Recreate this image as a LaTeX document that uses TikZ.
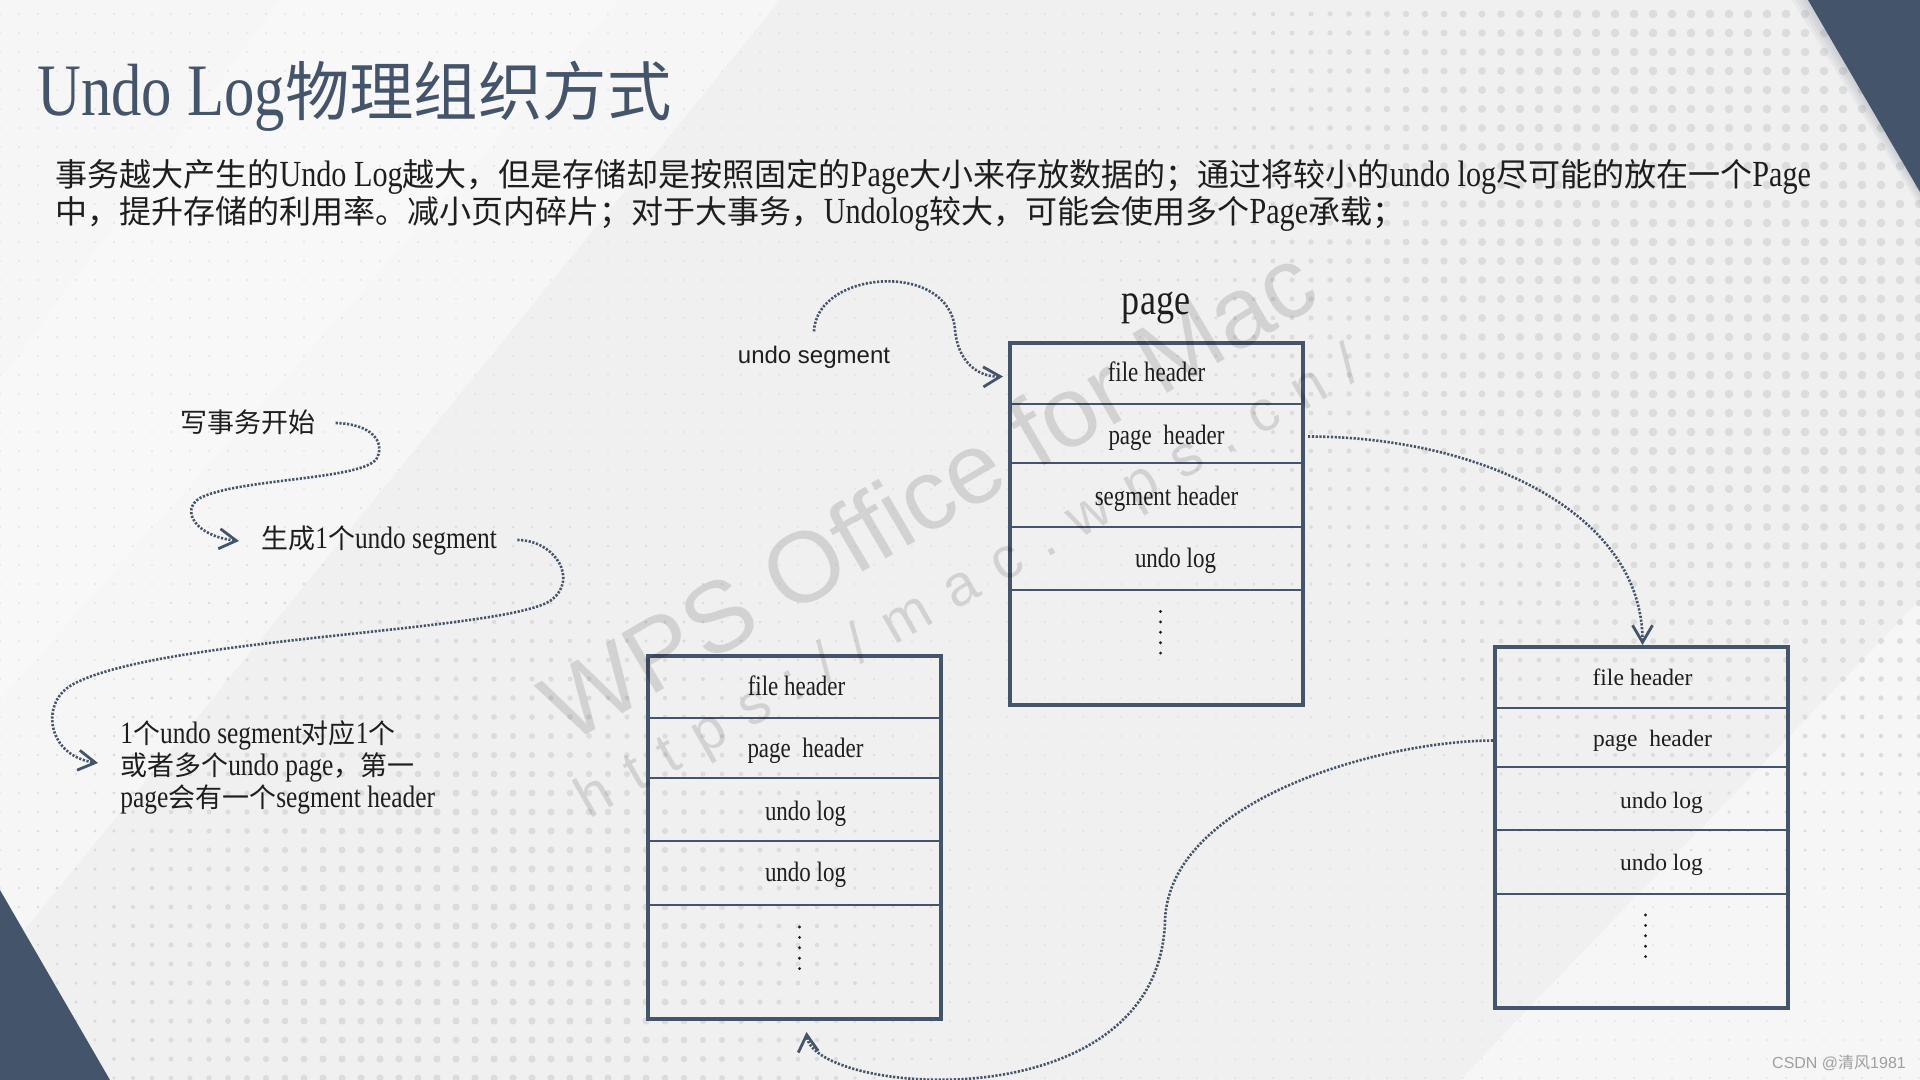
\documentclass[tikz,border=0pt]{standalone}
\usepackage{fontspec}
\usetikzlibrary{arrows.meta,calc}
\setmainfont{Liberation Serif}[FakeStretch=0.82]
\newfontfamily\regserif{Liberation Serif}
\newfontfamily\cjk{Noto Sans CJK SC}[Scale=0.87]
\newfontfamily\cjkfull{Noto Sans CJK SC}
\newfontfamily\arialf{Liberation Sans}
\newfontfamily\wmfont{Liberation Sans}[LetterSpace=38]
\newcommand\ZH[1]{{\cjk #1}}
\definecolor{slate}{HTML}{44546A}
\definecolor{bgc}{HTML}{F0F0F0}
\definecolor{dotc}{HTML}{DCDCDC}
\definecolor{txt}{HTML}{1E1E1E}
\begin{document}
\begin{tikzpicture}[x=0.5pt,y=-0.5pt, text=txt,
  cell/.style={draw=slate, line width=1.2pt, anchor=north west, inner sep=0pt, outer sep=0pt, minimum width=146.5pt},
  frame/.style={draw=slate, line width=1.8pt},
  btxt/.style={font=\fontsize{14}{16}\selectfont, inner sep=0pt, text height=0.7em, text depth=0.2em},
  btxtr/.style={font=\regserif\fontsize{11.75}{14}\selectfont, inner sep=0pt, text height=0.7em, text depth=0.2em},
  lbl/.style={font=\fontsize{15.5}{16}\selectfont, inner sep=0pt, anchor=west},
  conn/.style={draw=slate, line width=1.3pt, dash pattern=on 1.1pt off 0.8pt, -{Straight Barb[length=8.5pt,width=10pt,line width=1.4pt]}},
  vdots/.style={draw=txt, line width=1.6pt, line cap=round, dash pattern=on 0pt off 5.2pt},
  wm/.style={text=black, opacity=0.12, inner sep=0pt}
]
\useasboundingbox (0,0) rectangle (1920,1080);
% background
\fill[bgc] (0,0) rectangle (1920,1080);
\fill[white, opacity=0.45] (0,0) -- (780,0) -- (0,960) -- cycle;
\fill[white, opacity=0.3] (280,0) -- (620,0) -- (0,700) -- (0,380) -- cycle;
\fill[white, opacity=0.4] (1920,600) -- (1920,1080) -- (1460,1080) -- cycle;
% dots
\foreach \i in {0,...,101}{
  \foreach \j in {0,...,56}{
    \pgfmathsetmacro\xx{19*\i}
    \pgfmathsetmacro\yy{14+19*\j}
    \pgfmathsetmacro\ra{4.3*min(1,max(0,1.5*(1-veclen(\xx-1800,\yy-200)/850)))}
    \pgfmathsetmacro\rb{3.6*min(1,max(0,1.4*(1-veclen(\xx-480,\yy-980)/620)))}
    \pgfmathsetmacro\rr{max(\ra,\rb,0.8)}
    \fill[dotc] (\xx,\yy) circle[radius=\rr];
  }
}
% corner shapes
\foreach \s in {4,8,12,16}{
  \fill[slate, opacity=0.05] (1808-\s,0) -- (1920,0) -- (1920,192+\s) -- cycle;
}
\fill[slate] (1808,0) -- (1920,0) -- (1920,192) -- cycle;
\fill[slate] (0,890) -- (110,1080) -- (0,1080) -- cycle;

% title and description
\node[anchor=base west, inner sep=0pt, text=slate, font=\fontsize{37}{40}\selectfont] (title) at (37,116) {Undo Log\ZH{物理组织方式}};
\node[anchor=base west, inner sep=0pt, font=\fontsize{18.4}{18.4}\selectfont] (desc1) at (55,187)
  {\ZH{事务越大产生的}Undo Log\ZH{越大，但是存储却是按照固定的}Page\ZH{大小来存放数据的；通过将较小的}undo log\ZH{尽可能的放在一个}Page};
\node[anchor=base west, inner sep=0pt, font=\fontsize{18.4}{18.4}\selectfont] (desc2) at (55,224)
  {\ZH{中，提升存储的利用率。减小页内碎片；对于大事务，}Undolog\ZH{较大，可能会使用多个}Page\ZH{承载；}};

% left labels
\node[lbl] (w1) at (180,422) {\ZH{写事务开始}};
\node[lbl] (g1) at (261,541) {\ZH{生成}1\ZH{个}undo segment};
\node[lbl, align=left] (t3) at (120,767) {1\ZH{个}undo segment\ZH{对应}1\ZH{个}\\\ZH{或者多个}undo page\ZH{，第一}\\page\ZH{会有一个}segment header};

% undo segment label and page label
\node[font=\arialf\fontsize{12}{14}\selectfont, inner sep=0pt] (useg) at (814,357) {undo segment};
\node[font=\fontsize{22}{24}\selectfont, anchor=base, inner sep=0pt] (pglbl) at (1156,315) {page};

% middle page box
\node[cell, minimum height=30.5pt] (m1) at (1010,343) {};
\node[cell, minimum height=29.5pt] (m2) at (m1.south west) {};
\node[cell, minimum height=32pt] (m3) at (m2.south west) {};
\node[cell, minimum height=31.5pt] (m4) at (m3.south west) {};
\node[cell, minimum height=57.5pt] (m5) at (m4.south west) {};
\draw[frame] (m1.north west) rectangle (m5.south east);
\node[btxt] (m1t) at ($(m1.center)+(0,3)$) {file header};
\node[btxt] (m2t) at ($(m2.center)+(10,6)$) {page\ \ header};
\node[btxt] (m3t) at ($(m3.center)+(10,5)$) {segment header};
\node[btxt] (m4t) at ($(m4.center)+(19,4)$) {undo log};
\draw[vdots] ($(m5.center)+(4,-36)$) -- ($(m5.center)+(4,8)$);

% lower left box
\node[cell, minimum height=31pt] (l1) at (648,656) {};
\node[cell, minimum height=30pt] (l2) at (l1.south west) {};
\node[cell, minimum height=31.5pt] (l3) at (l2.south west) {};
\node[cell, minimum height=32pt] (l4) at (l3.south west) {};
\node[cell, minimum height=57pt] (l5) at (l4.south west) {};
\draw[frame] (l1.north west) rectangle (l5.south east);
\node[btxt] (l1t) at ($(l1.center)+(2,3)$) {file header};
\node[btxt] (l2t) at ($(l2.center)+(11,4)$) {page\ \ header};
\node[btxt] (l3t) at ($(l3.center)+(11,6)$) {undo log};
\node[btxt] (l4t) at ($(l4.center)+(11,3)$) {undo log};
\draw[vdots] ($(l5.center)+(5,-35)$) -- ($(l5.center)+(5,9)$);

% right box
\node[cell, minimum height=30.5pt] (r1) at (1495,647) {};
\node[cell, minimum height=29.5pt] (r2) at (r1.south west) {};
\node[cell, minimum height=31.5pt] (r3) at (r2.south west) {};
\node[cell, minimum height=32pt] (r4) at (r3.south west) {};
\node[cell, minimum height=57pt] (r5) at (r4.south west) {};
\draw[frame] (r1.north west) rectangle (r5.south east);
\node[btxtr] (r1t) at ($(r1.center)+(1,3)$) {file header};
\node[btxtr] (r2t) at ($(r2.center)+(11,4)$) {page\ \ header};
\node[btxtr] (r3t) at ($(r3.center)+(20,5)$) {undo log};
\node[btxtr] (r4t) at ($(r4.center)+(20,3)$) {undo log};
\draw[vdots] ($(r5.center)+(4,-36)$) -- ($(r5.center)+(4,8)$);

% connectors
\draw[conn] ($(w1.east)+(20,1)$) .. controls (372,424) and (385,442) .. (377,458)
  .. controls (365,480) and (240,478) .. (200,498)
  .. controls (180,510) and (195,536) .. ($(g1.west)+(-22,0)$);
\draw[conn] ($(g1.east)+(20,-1)$) .. controls (555,540) and (580,580) .. (550,601)
  .. controls (500,632) and (150,638) .. (70,686)
  .. controls (40,705) and (48,756) .. ($(t3.west)+(-22,-4)$);
\draw[conn] ($(useg.north)+(0,-14)$) .. controls (816,270) and (950,260) .. (955,330)
  .. controls (958,362) and (978,377) .. ($(m1.west)+(-7,3)$);
\draw[conn] ($(m2.east)+(5,3)$) .. controls +(171,0) and +(0,-133) .. ($(r1.north)+(1,-2)$);
\draw[conn] ($(r2.west)+(-2,3)$) .. controls (1380,741) and (1170,800) .. (1165,920)
  .. controls (1160,1125) and (812,1095) .. ($(l5.south)+(12,13)$);

% watermarks
\node[wm, rotate=30.4, font=\arialf\fontsize{50}{50}\selectfont] (wm1) at (928,493) {WPS Office for Mac};
\node[wm, rotate=29.8, font=\wmfont\fontsize{29}{29}\selectfont] (wm2) at (970,585) {https://mac.wps.cn/};
\node[inner sep=0pt, text=gray!75, font=\fontsize{8}{8}\selectfont] (csdn) at (1839,1063) {{\arialf CSDN @}{\cjkfull 清风}{\arialf 1981}};
\end{tikzpicture}
\end{document}
